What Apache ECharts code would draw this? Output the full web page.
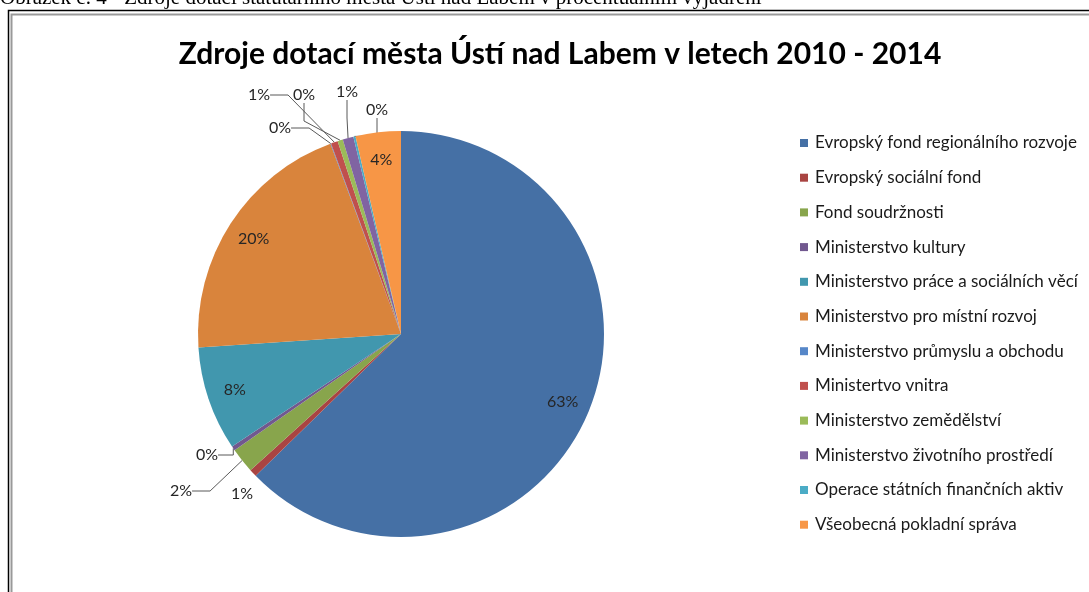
<!DOCTYPE html>
<html>
<head>
<meta charset="utf-8">
<script src="https://cdn.jsdelivr.net/npm/echarts@6/dist/echarts.min.js"></script>
<style>
  html, body { margin: 0; padding: 0; background: #fff; }
  #chart { width: 1089px; height: 592px; }
</style>
</head>
<body>
<div id="chart"></div>
<script>
// funding sources (share of total, %)
const categories = [
  'Evropský fond regionálního rozvoje',
  'Evropský sociální fond',
  'Fond soudržnosti',
  'Ministerstvo kultury',
  'Ministerstvo práce a sociálních věcí',
  'Ministerstvo pro místní rozvoj',
  'Ministerstvo průmyslu a obchodu',
  'Ministertvo vnitra',
  'Ministerstvo zemědělství',
  'Ministerstvo životního prostředí',
  'Operace státních finančních aktiv',
  'Všeobecná pokladní správa'
];
const shares = [62.7, 0.6, 2.0, 0.35, 8.3, 20.4, 0.05, 0.55, 0.42, 0.86, 0.17, 3.6];
const colors = ['#4570a5', '#a94442', '#88a54c', '#71588f', '#4197ae', '#d9843c',
  '#5687c8', '#c0504d', '#9bbb59', '#8064a2', '#4bacc6', '#f79646'];
// slices big enough to carry their label inside
const insideLabel = [true, false, false, false, true, true, false, false, false, false, false, true];

const title = 'Zdroje dotací města Ústí nad Labem v letech 2010 - 2014';
const caption = 'Obrázek č. 4 - Zdroje dotací statutárního města Ústí nad Labem v procentuálním vyjádření';

// where the small outside labels sit (like Excel placed them)
const labelSpots = {
  1: [242, 494],
  2: [181, 491],
  3: [207, 455],
  6: [280, 128],
  7: [259, 95],
  8: [304, 95],
  9: [347, 92],
  10: [377, 110]
};

const pct = p => Math.round(p.percent) + '%';
const labelFont = { fontFamily: 'Lato', fontSize: 16, color: '#262626' };

const chart = echarts.init(document.getElementById('chart'));
chart.setOption({
  animation: false,
  color: colors,
  title: {
    text: title,
    left: 555,
    textAlign: 'center',
    top: 34,
    textStyle: { fontFamily: 'Lato', fontWeight: 'bold', fontSize: 30, color: '#000' }
  },
  graphic: [
    {
      // caption of the document page, cut off by the top edge
      type: 'text', x: 0, y: 8.5,
      style: { text: caption, fontSize: 21, fontFamily: 'Liberation Serif', fill: '#000', verticalAlign: 'bottom' }
    },
    { type: 'rect', shape: { x: 8.5, y: 10.5, width: 1200, height: 700 }, style: { fill: null, stroke: '#000', lineWidth: 1.5 } },
    { type: 'rect', shape: { x: 11.5, y: 14.5, width: 1200, height: 700 }, style: { fill: null, stroke: '#999', lineWidth: 2 } }
  ],
  legend: {
    orient: 'vertical',
    left: 800,
    top: 134,
    padding: 0,
    icon: 'rect',
    itemWidth: 8,
    itemHeight: 8,
    itemGap: 16.7,
    data: categories,
    textStyle: { fontFamily: 'Lato', fontSize: 17, lineHeight: 18, color: '#1a1a1a', padding: [0, 0, 0, 2] }
  },
  series: [
    {
      type: 'pie',
      center: [401, 334],
      radius: 203,
      startAngle: 90,
      clockwise: true,
      itemStyle: { borderWidth: 0 },
      label: { show: true, position: 'outside', formatter: pct, ...labelFont },
      labelLine: { length: 12, length2: 18, lineStyle: { color: '#595959', width: 1 } },
      labelLayout: params => {
        const s = labelSpots[params.dataIndex];
        if (!s) return;
        return { x: s[0], y: s[1], align: 'center', verticalAlign: 'middle' };
      },
      emphasis: { disabled: true },
      data: categories.map((n, i) => ({
        name: n,
        value: shares[i],
        label: { show: !insideLabel[i] },
        labelLine: { show: !insideLabel[i] && i !== 1 }
      }))
    },
    {
      // transparent copy only used to place the inside labels at ~0.85 r
      type: 'pie',
      silent: true,
      center: [401, 334],
      radius: 345,
      startAngle: 90,
      clockwise: true,
      itemStyle: { color: 'rgba(0,0,0,0)', borderWidth: 0 },
      label: { show: true, position: 'inside', formatter: pct, ...labelFont },
      labelLine: { show: false },
      data: categories.map((n, i) => ({
        name: n,
        value: shares[i],
        label: { show: insideLabel[i] }
      }))
    }
  ]
});
</script>
</body>
</html>
